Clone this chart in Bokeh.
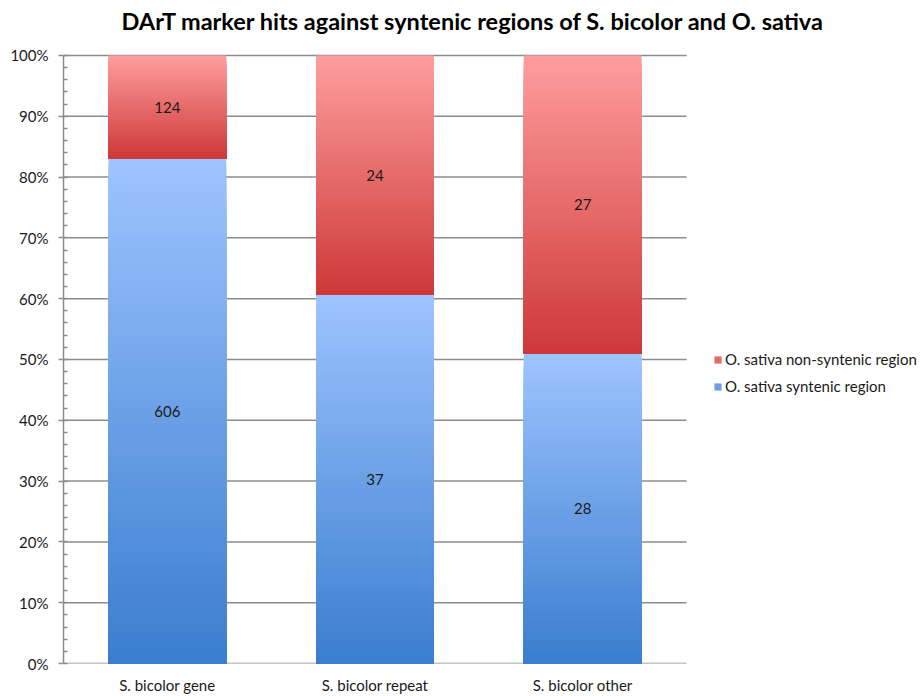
from bokeh.plotting import figure
from bokeh.models import (ColumnDataSource, Range1d, FixedTicker,
                          NumeralTickFormatter, Legend, LegendItem, Label)
from bokeh.embed import file_html
from bokeh.resources import INLINE
from bokeh.core.properties import value

# --- data -------------------------------------------------------------
categories = ["S. bicolor gene", "S. bicolor repeat", "S. bicolor other"]
syntenic = [606, 37, 28]
non_syntenic = [124, 24, 27]
series_names = ["O. sativa non-syntenic region", "O. sativa syntenic region"]
y_ticks = [i / 10 for i in range(11)]
y_minor = [i / 50 for i in range(51)]
title = "DArT marker hits against syntenic regions of S. bicolor and O. sativa"

FONT = "Lato"
N_SLICES = 80

# gradient end points (top colour, bottom colour) for each series
blue_top, blue_bottom = (158, 196, 255), (58, 125, 207)
red_top, red_bottom = (255, 158, 158), (206, 56, 56)

totals = [a + b for a, b in zip(syntenic, non_syntenic)]
syn_frac = [a / t for a, t in zip(syntenic, totals)]
x_pos = [i + 0.5 for i in range(len(categories))]   # category slot centres
n_cat = len(categories)


def mix(c0, c1, t):
    return "#%02x%02x%02x" % tuple(round(a + (b - a) * t) for a, b in zip(c0, c1))


def gradient_source(bottoms, tops, c_top, c_bottom):
    """Nested slices: each slice spans from the segment bottom up to a
    decreasing height, drawn tallest first, so the visible bands form a
    vertical gradient without seams."""
    xs, bs, ts, cs = [], [], [], []
    for x, b, t in zip(x_pos, bottoms, tops):
        for k in range(N_SLICES):
            xs.append(x)
            bs.append(b)
            ts.append(b + (t - b) * (N_SLICES - k) / N_SLICES)
            cs.append(mix(c_top, c_bottom, (k + 0.5) / N_SLICES))
    return ColumnDataSource(dict(x=xs, bottom=bs, top=ts, color=cs))


# Layout in pixels: the frame spans the canvas to the right and top edges so
# that the legend and title sit inside it; the bar area is 623 px wide and
# 0..100% covers 609 px, with 55 px of headroom above it for the title.
W, H = 922, 696
LEFT, BOTTOM = 63, 32
CAT_W, VAL_H, HEAD = 623, 609, 55
px_x = n_cat / CAT_W          # data units per pixel, horizontally
px_y = 1 / VAL_H              # data units per pixel, vertically

p = figure(x_range=Range1d(0, (W - LEFT) * px_x),
           y_range=Range1d(0, 1 + HEAD * px_y),
           width=W, height=H, output_backend="svg", toolbar_location=None,
           min_border_left=LEFT, min_border_right=0,
           min_border_top=0, min_border_bottom=BOTTOM)

# chart title, placed in pixels from the canvas top-left
TITLE_X, TITLE_Y = 121, 21
p.add_layout(Label(x=(TITLE_X - LEFT) * px_x, y=1 + (HEAD - TITLE_Y) * px_y, text=title,
                   text_font=FONT, text_font_size="23.5px", text_font_style="bold",
                   text_color="#000000", text_align="left",
                   text_baseline="alphabetic"))

# horizontal grid lines over the category area only
p.segment(x0=[0] * len(y_ticks), x1=[n_cat] * len(y_ticks), y0=y_ticks, y1=y_ticks,
          line_color="#8c8c8c", line_width=1.5)

BAR_W = 0.567
syn_src = gradient_source([0] * n_cat, syn_frac, blue_top, blue_bottom)
non_src = gradient_source(syn_frac, [1] * n_cat, red_top, red_bottom)
syn_r = p.vbar(x="x", bottom="bottom", top="top", width=BAR_W, fill_color="color",
               line_color=None, source=syn_src)
non_r = p.vbar(x="x", bottom="bottom", top="top", width=BAR_W, fill_color="color",
               line_color=None, source=non_src)

# value labels in the middle of each segment
lbl_src = ColumnDataSource(dict(
    x=x_pos * 2,
    y=[f / 2 for f in syn_frac] + [(f + 1) / 2 for f in syn_frac],
    text=[str(v) for v in syntenic] + [str(v) for v in non_syntenic]))
p.text(x="x", y="y", text="text", source=lbl_src, text_align="center",
       text_baseline="middle", text_font=value(FONT), text_font_size="15px",
       text_color="#1a1a1a")

# legend to the right of the bars; swatches take a mid-gradient slice colour
mid = N_SLICES // 2
legend = Legend(items=[LegendItem(label=series_names[0], renderers=[non_r], index=mid),
                       LegendItem(label=series_names[1], renderers=[syn_r], index=mid)],
                location=(650, 268), padding=0, margin=0, spacing=9,
                glyph_width=9, glyph_height=9, label_height=18, label_standoff=3,
                label_text_font=FONT, label_text_font_size="15px",
                label_text_color="#1a1a1a", border_line_color=None,
                background_fill_alpha=0)
p.add_layout(legend)

# axes
AX = "#8c8c8c"
p.yaxis.ticker = FixedTicker(ticks=y_ticks, minor_ticks=y_minor)
p.yaxis.bounds = (0, 1)
p.yaxis.formatter = NumeralTickFormatter(format="0%")
p.yaxis.major_tick_in = 0
p.yaxis.major_tick_out = 5
p.yaxis.minor_tick_in = 4
p.yaxis.minor_tick_out = 0
p.yaxis.major_label_standoff = 10
p.yaxis.axis_line_color = AX
p.yaxis.axis_line_width = 1.5
p.yaxis.major_tick_line_color = AX
p.yaxis.major_tick_line_width = 1.5
p.yaxis.minor_tick_line_color = AX
p.yaxis.minor_tick_line_width = 1.5

p.xaxis.ticker = FixedTicker(ticks=x_pos)
p.xaxis.major_label_overrides = {x: c for x, c in zip(x_pos, categories)}
p.xaxis.axis_line_color = None
p.xaxis.major_tick_line_color = None
p.xaxis.minor_tick_line_color = None
p.xaxis.major_tick_out = 0
p.xaxis.major_label_standoff = 12

for ax in (p.xaxis, p.yaxis):
    ax.major_label_text_font = FONT
    ax.major_label_text_font_size = "15px"
    ax.major_label_text_color = "#1a1a1a"

p.grid.grid_line_color = None
p.outline_line_color = None

open("out.html", "w").write(file_html(p, INLINE))
